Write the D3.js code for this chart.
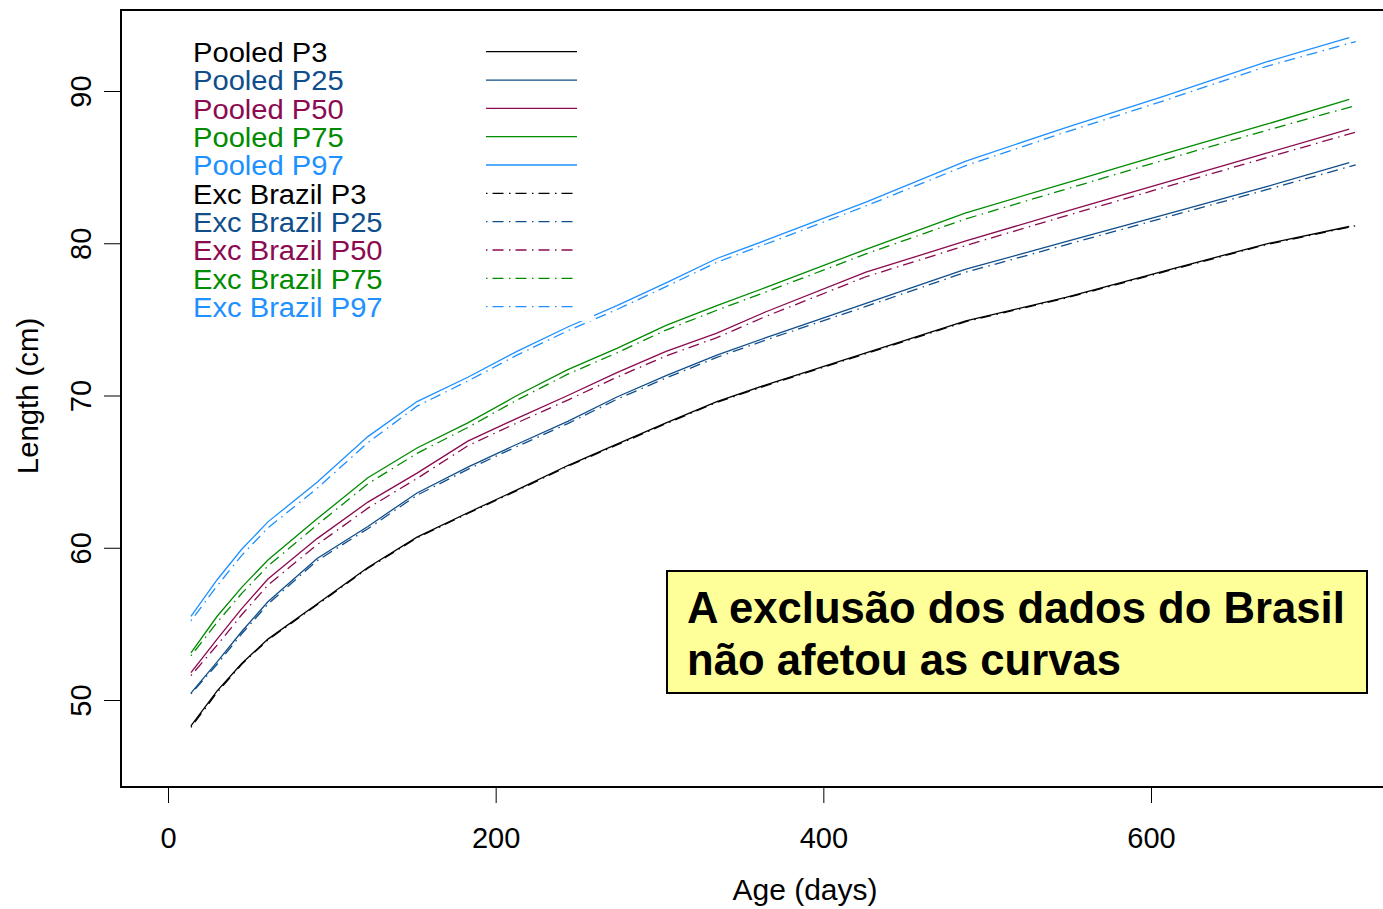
<!DOCTYPE html>
<html>
<head>
<meta charset="utf-8">
<script src="https://cdn.jsdelivr.net/npm/d3@7"></script>
<style>
html,body{margin:0;padding:0;background:#fff;}
svg{display:block;}
text{font-family:"Liberation Sans",Arial,sans-serif;}
</style>
</head>
<body>
<svg id="chart" width="1383" height="909"></svg>
<script>
// ---- data ----
const agesPooled = [14, 30, 45, 61, 91, 122, 152, 183, 213, 244, 274, 304, 335, 365, 426, 487, 548, 609, 670, 721];
const agesExc    = [14, 30, 45, 61, 91, 122, 152, 183, 213, 244, 274, 304, 335, 365, 426, 487, 548, 609, 670, 725];

const pooledP3  = [48.3, 50.6, 52.4, 54.0, 56.3, 58.7, 60.7, 62.3, 63.8, 65.4, 66.8, 68.2, 69.6, 70.7, 72.8, 74.9, 76.45, 78.2, 79.95, 81.1];
const pooledP25 = [50.45, 52.5, 54.5, 56.45, 59.3, 61.4, 63.6, 65.3, 66.8, 68.3, 69.9, 71.3, 72.65, 73.8, 76.05, 78.3, 80.1, 81.9, 83.7, 85.3];
const pooledP50 = [51.8, 54.0, 56.0, 57.95, 60.6, 63.0, 64.9, 67.0, 68.5, 70.0, 71.5, 72.9, 74.1, 75.5, 78.1, 80.15, 82.1, 84.0, 85.9, 87.5];
const pooledP75 = [53.1, 55.5, 57.4, 59.2, 61.9, 64.6, 66.55, 68.2, 70.0, 71.7, 73.1, 74.6, 75.9, 77.1, 79.6, 82.0, 83.95, 85.9, 87.8, 89.45];
const pooledP97 = [55.5, 57.9, 59.9, 61.7, 64.3, 67.3, 69.6, 71.2, 72.9, 74.5, 75.9, 77.4, 79.0, 80.2, 82.7, 85.4, 87.6, 89.7, 91.9, 93.5];

const excP3  = [48.2, 50.5, 52.35, 53.95, 56.25, 58.65, 60.65, 62.25, 63.75, 65.35, 66.75, 68.15, 69.55, 70.65, 72.75, 74.85, 76.4, 78.15, 79.9, 81.15];
const excP25 = [50.4, 52.35, 54.35, 56.3, 59.15, 61.25, 63.45, 65.15, 66.65, 68.15, 69.75, 71.15, 72.5, 73.65, 75.85, 78.1, 79.9, 81.7, 83.5, 85.15];
const excP50 = [51.6, 53.6, 55.6, 57.55, 60.2, 62.6, 64.55, 66.7, 68.2, 69.7, 71.2, 72.6, 73.8, 75.2, 77.8, 79.85, 81.8, 83.7, 85.6, 87.3];
const excP75 = [52.9, 55.1, 57.0, 58.8, 61.5, 64.2, 66.2, 67.9, 69.7, 71.4, 72.8, 74.3, 75.6, 76.8, 79.3, 81.6, 83.55, 85.5, 87.4, 89.05];
const excP97 = [55.2, 57.5, 59.5, 61.3, 63.9, 66.9, 69.3, 70.95, 72.65, 74.25, 75.65, 77.15, 78.75, 79.95, 82.45, 85.1, 87.3, 89.4, 91.6, 93.25];

const percentiles = ["P3", "P25", "P50", "P75", "P97"];
const colors = ["#000000", "#104E8B", "#8B0A50", "#008B00", "#1E90FF"];
const legendLabels = ["Pooled P3","Pooled P25","Pooled P50","Pooled P75","Pooled P97",
                      "Exc Brazil P3","Exc Brazil P25","Exc Brazil P50","Exc Brazil P75","Exc Brazil P97"];
const xTicks = [0, 200, 400, 600];
const yTicks = [50, 60, 70, 80, 90];
const xTitle = "Age (days)";
const yTitle = "Length (cm)";
const noteLines = ["A exclusão dos dados do Brasil", "não afetou as curvas"];

// ---- layout ----
const svg = d3.select("#chart");
const plot = {left: 121, top: 10, right: 1390, bottom: 787};
const x = d3.scaleLinear().domain([0, 600]).range([168, 1151]);
const y = d3.scaleLinear().domain([50, 90]).range([700, 91]);
const dotdash = "1.5,5,11,5.5";

const series = [];
percentiles.forEach((p, i) => {
  series.push({ages: agesPooled, vals: [pooledP3,pooledP25,pooledP50,pooledP75,pooledP97][i], color: colors[i], dash: null});
});
percentiles.forEach((p, i) => {
  series.push({ages: agesExc, vals: [excP3,excP25,excP50,excP75,excP97][i], color: colors[i], dash: dotdash});
});

const line = d3.line().x(d => x(d[0])).y(d => y(d[1]));

const gLines = svg.append("g");
series.forEach(s => {
  gLines.append("path")
    .datum(s.ages.map((a, j) => [a, s.vals[j]]))
    .attr("d", line)
    .attr("fill", "none")
    .attr("stroke", s.color)
    .attr("stroke-width", 1.3)
    .attr("stroke-dasharray", s.dash);
});

// legend (opaque background hides curves)
const leg = svg.append("g");
leg.append("rect").attr("x", 180).attr("y", 26).attr("width", 414).attr("height", 295).attr("fill", "#fff");
const legY0 = 51.7, legDy = 28.33;
legendLabels.forEach((lab, i) => {
  const yy = legY0 + i * legDy;
  const c = colors[i % 5];
  leg.append("text")
    .attr("transform", `translate(193,${yy + 10.2}) scale(1.08,1)`)
    .attr("font-size", 27).attr("fill", c).text(lab);
  leg.append("line").attr("x1", 486).attr("x2", i < 5 ? 577 : 573)
    .attr("y1", yy).attr("y2", yy)
    .attr("stroke", c).attr("stroke-width", 1.3)
    .attr("stroke-dasharray", i < 5 ? null : dotdash);
});

// frame
svg.append("path")
  .attr("d", `M${plot.right},${plot.top}H${plot.left}V${plot.bottom}H${plot.right}`)
  .attr("fill", "none").attr("stroke", "#000").attr("stroke-width", 2);

// x axis
const gx = svg.append("g").attr("transform", `translate(0,${plot.bottom})`)
  .call(d3.axisBottom(x).tickValues(xTicks).tickSize(16).tickPadding(24).tickFormat(d3.format("d")));
gx.select(".domain").remove();
gx.selectAll("line").attr("stroke", "#000").attr("stroke-width", 1);
gx.selectAll("text").attr("font-size", 29).attr("font-family", "Liberation Sans, Arial, sans-serif").attr("fill", "#000");

// y axis
const gy = svg.append("g").attr("transform", `translate(${plot.left},0)`)
  .call(d3.axisLeft(y).tickValues(yTicks).tickSize(17).tickFormat(d3.format("d")));
gy.select(".domain").remove();
gy.selectAll("line").attr("stroke", "#000").attr("stroke-width", 1);
gy.selectAll("text")
  .attr("font-size", 29).attr("font-family", "Liberation Sans, Arial, sans-serif").attr("fill", "#000")
  .attr("x", null).attr("dy", null)
  .attr("text-anchor", "middle")
  .attr("transform", "translate(-30,0) rotate(-90)")
  .attr("y", 0);

// axis titles
svg.append("text").attr("x", 805).attr("y", 900).attr("text-anchor", "middle")
  .attr("font-size", 30).text(xTitle);
svg.append("text").attr("transform", "translate(38,396) rotate(-90)").attr("text-anchor", "middle")
  .attr("font-size", 29.3).text(yTitle);

// annotation box
const note = svg.append("g");
note.append("rect").attr("x", 667).attr("y", 571).attr("width", 700).attr("height", 122)
  .attr("fill", "#FFFF99").attr("stroke", "#000").attr("stroke-width", 2);
noteLines.forEach((t, i) => {
  note.append("text").attr("x", 687).attr("y", 623 + i * 52)
    .attr("font-family", "DejaVu Sans Condensed, DejaVu Sans, sans-serif")
    .attr("font-weight", "bold").attr("font-size", 38).attr("fill", "#000").text(t);
});
// fit first line width to reference (~658px)
const t0 = note.select("text").node();
const w0 = t0.getComputedTextLength();
const fs = 38 * 658 / w0;
note.selectAll("text").attr("font-size", fs);
</script>
</body>
</html>
